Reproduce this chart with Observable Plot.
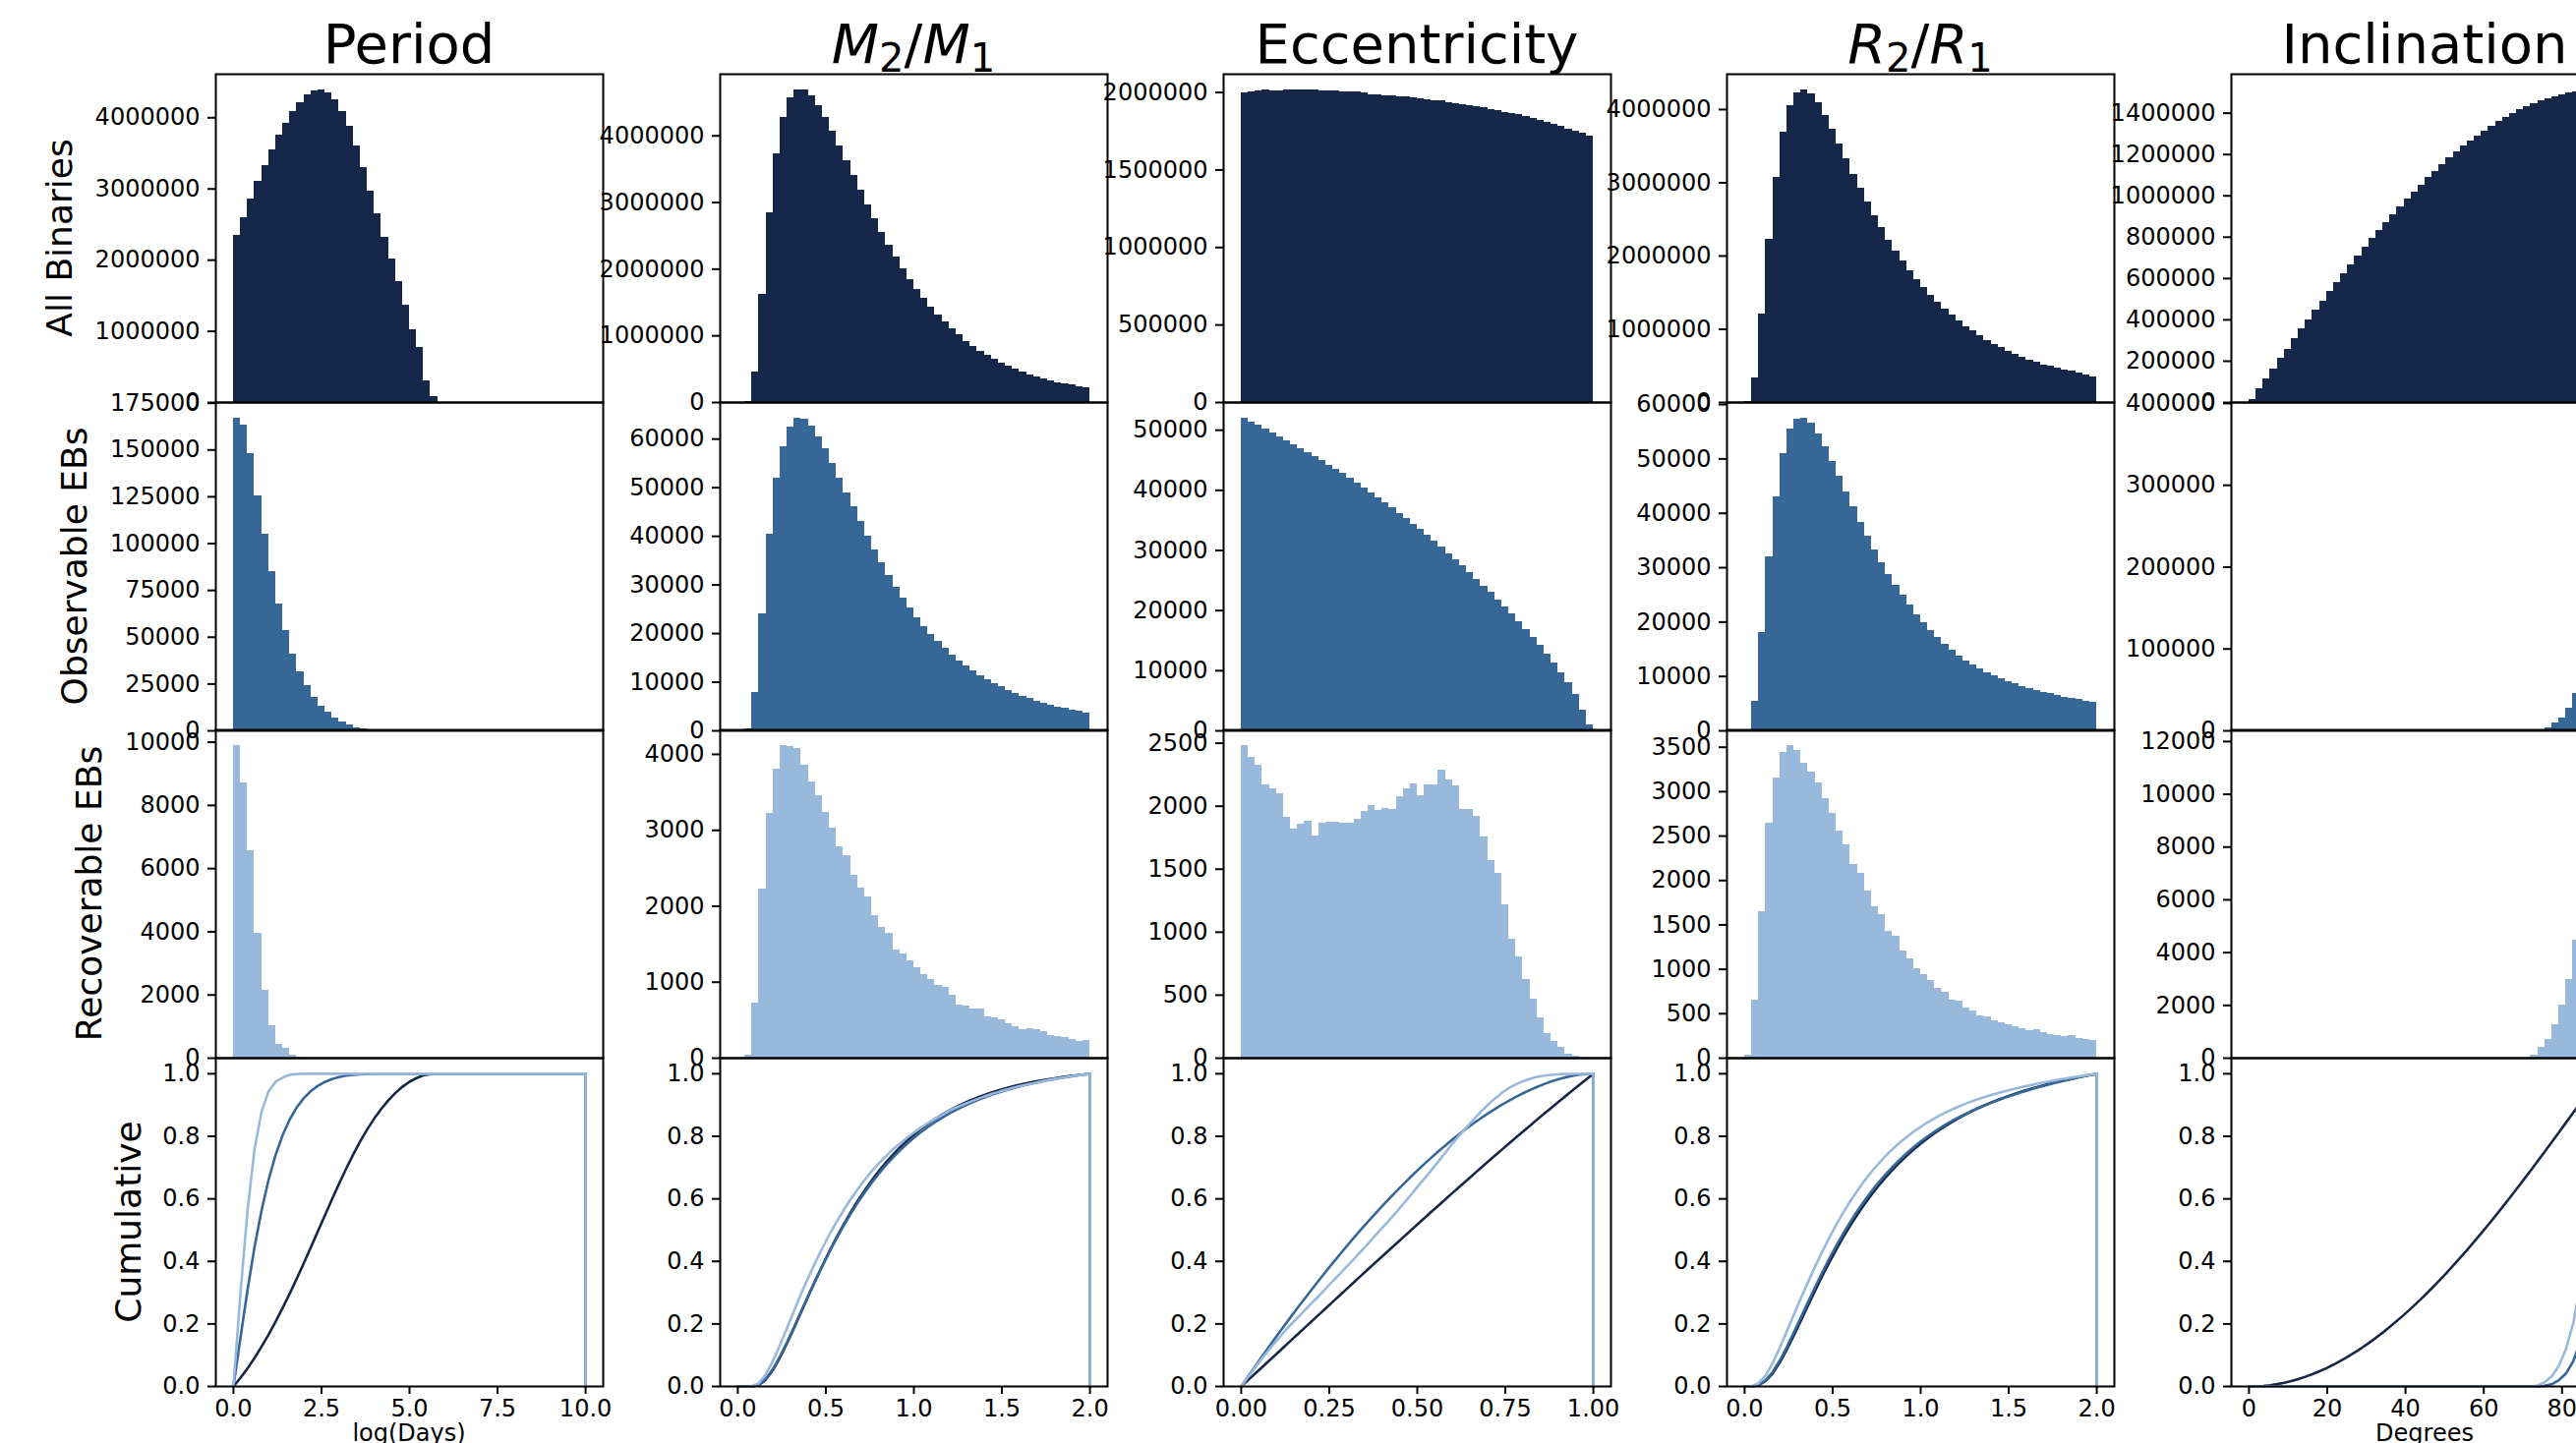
<!DOCTYPE html>
<html><head><meta charset="utf-8">
<script src="https://cdn.jsdelivr.net/npm/d3@7"></script>
<script src="https://cdn.jsdelivr.net/npm/@observablehq/plot@0.6"></script>
<style>
html,body{margin:0;padding:0;background:#fff;}
#page{position:relative;width:2620px;height:1468px;overflow:hidden;background:#fff;font-family:"DejaVu Sans",sans-serif;}
.panel{position:absolute;}
.panel svg{overflow:visible;}
</style></head><body><div id="page"></div>
<script>
// ---------------- DATA (histogram counts, 50 bins per column) ----------------
const colTitles = ["Period", "M2/M1", "Eccentricity", "R2/R1", "Inclination"];
const rowLabels = ["All Binaries", "Observable EBs", "Recoverable EBs", "Cumulative"];
const xLabels = ["log(Days)", "", "", "", "Degrees"];
const binRanges = [[0, 10], [0, 2], [0, 1], [0, 2], [0, 90]];

const periodAll = [2344000,2593000,2856000,3110000,3322000,3543000,3755000,3917000,4083000,4208000,4318000,4383000,4392000,4351000,4254000,4088000,3880000,3599000,3299000,2967000,2648000,2316000,2012000,1693000,1361000,1015000,770000,309000,83000,0,0,0,0,0,0,0,0,0,0,0,0,0,0,0,0,0,0,0,0,0];
const periodObs = [167000,163400,148200,125600,105100,85200,67900,53400,41100,31700,24000,18000,13300,9800,6800,4900,3300,1700,800,400,200,100,0,0,0,0,0,0,0,0,0,0,0,0,0,0,0,0,0,0,0,0,0,0,0,0,0,0,0,0];
const periodRec = [9896,8721,6570,3950,2152,1019,426,301,83,20,0,0,0,0,0,0,0,0,0,0,0,0,0,0,0,0,0,0,0,0,0,0,0,0,0,0,0,0,0,0,0,0,0,0,0,0,0,0,0,0];

const massAll = [0,15000,463000,1616000,2842000,3729000,4276000,4571000,4690000,4690000,4601000,4453000,4276000,4069000,3847000,3626000,3404000,3182000,2961000,2754000,2547000,2355000,2177000,2000000,1837000,1690000,1557000,1424000,1305000,1202000,1099000,1010000,921000,847000,773000,714000,655000,596000,552000,507000,463000,419000,389000,360000,330000,300000,286000,266000,241000,227000];
const massObs = [0,350,7800,24000,40500,52000,58500,62500,64300,64000,62600,60500,58000,55000,52000,49000,46000,43000,40000,37200,34500,32000,29500,27300,25200,23300,21500,19800,18300,16900,15600,14400,13300,12300,11400,10500,9700,9000,8300,7700,7100,6600,6100,5700,5300,4900,4600,4300,4000,3700];
const massRec = [0,43,722,2227,3226,3810,4117,4108,4082,3862,3641,3459,3239,3031,2785,2668,2409,2240,2123,1877,1721,1643,1423,1371,1280,1189,1098,1034,956,930,826,696,683,644,644,541,528,502,450,411,372,385,372,346,294,281,268,242,216,229];

const eccAll = [2000000,2004000,2008000,2015000,2013000,2013000,2015000,2017000,2017000,2017000,2015000,2013000,2011000,2011000,2006000,2004000,2002000,2000000,1987000,1983000,1981000,1979000,1975000,1970000,1964000,1960000,1953000,1949000,1945000,1937000,1930000,1924000,1915000,1909000,1901000,1892000,1884000,1873000,1865000,1856000,1843000,1831000,1820000,1810000,1795000,1782000,1763000,1750000,1738000,1721000];
const eccObs = [52000,51300,50800,50200,49600,48900,48200,47600,46900,46200,45600,44900,44200,43500,42800,42000,41200,40400,39600,38800,38000,37100,36200,35300,34400,33500,32500,31500,30500,29500,28500,27400,26300,25200,24100,23000,21800,20600,19400,18200,16900,15600,14200,12800,11300,9700,8000,6000,3500,1000];
const eccRec = [2482,2388,2325,2172,2140,2099,1913,1820,1859,1880,1765,1867,1874,1874,1867,1867,1898,1960,2005,1968,1984,1976,2078,2140,2179,2086,2172,2172,2289,2211,2164,1976,1976,1921,1757,1569,1468,1217,944,803,623,467,318,193,130,83,29,13,10,0];

const radAll = [13000,336000,1202000,2224000,3072000,3691000,4054000,4224000,4269000,4215000,4094000,3919000,3731000,3529000,3327000,3112000,2924000,2735000,2547000,2386000,2211000,2063000,1928000,1794000,1673000,1565000,1457000,1363000,1269000,1188000,1108000,1040000,973000,906000,852000,798000,758000,704000,664000,623000,583000,556000,516000,502000,475000,448000,435000,408000,381000,354000];
const radObs = [200,5500,18000,32000,43000,51000,55500,57300,57500,56500,54600,52200,49600,46800,44000,41200,38400,35800,33300,31000,28800,26800,24900,23100,21400,19800,18400,17100,15900,14800,13800,12900,12100,11400,10700,10100,9600,9100,8600,8200,7800,7400,7100,6800,6500,6200,5900,5700,5500,5300];
const radRec = [30,650,1650,2650,3150,3440,3520,3460,3320,3220,3100,2920,2760,2560,2400,2180,2080,1880,1700,1620,1430,1370,1210,1120,1010,940,870,790,740,650,640,560,530,480,460,420,400,380,350,330,310,320,290,270,260,240,250,220,210,200];

const incAll = [16000,67000,116000,164000,212000,259000,307000,355000,398000,446000,488000,536000,579000,622000,665000,708000,751000,794000,832000,870000,907000,945000,983000,1018000,1052000,1088000,1118000,1150000,1184000,1212000,1243000,1267000,1290000,1314000,1338000,1362000,1381000,1400000,1419000,1434000,1448000,1462000,1472000,1481000,1491000,1497000,1502000,1507000,1511000,1513000];
const incObs = [0,0,0,0,0,0,0,0,0,0,0,0,0,0,0,0,0,0,0,0,0,0,0,0,0,0,0,0,0,0,0,0,0,0,0,0,0,0,0,0,0,1500,4000,9400,15600,27600,45800,85000,165000,382000];
const incRec = [0,0,0,0,0,0,0,0,0,0,0,0,0,0,0,0,0,0,0,0,0,0,0,0,0,0,0,0,0,0,0,0,0,0,0,0,0,0,0,0,113,405,713,1248,2027,2983,4460,5600,8200,11850];

// tick values
const yTicksAll = [[0,1000000,2000000,3000000,4000000],[0,1000000,2000000,3000000,4000000],[0,500000,1000000,1500000,2000000],[0,1000000,2000000,3000000,4000000],[0,200000,400000,600000,800000,1000000,1200000,1400000]];
const yTicksObs = [[0,25000,50000,75000,100000,125000,150000,175000],[0,10000,20000,30000,40000,50000,60000],[0,10000,20000,30000,40000,50000],[0,10000,20000,30000,40000,50000,60000],[0,100000,200000,300000,400000]];
const yTicksRec = [[0,2000,4000,6000,8000,10000],[0,1000,2000,3000,4000],[0,500,1000,1500,2000,2500],[0,500,1000,1500,2000,2500,3000,3500],[0,2000,4000,6000,8000,10000,12000]];
const yTicksCum = [0,0.2,0.4,0.6,0.8,1.0];
const xTicks = [[0,2.5,5,7.5,10],[0,0.5,1,1.5,2],[0,0.25,0.5,0.75,1],[0,0.5,1,1.5,2],[0,20,40,60,80]];
const xTickFormats = [".1f", ".1f", ".2f", ".1f", "d"];

// ---------------- LAYOUT ----------------
const series = [[periodAll,periodObs,periodRec],[massAll,massObs,massRec],[eccAll,eccObs,eccRec],[radAll,radObs,radRec],[incAll,incObs,incRec]];
const yTicksRows = [yTicksAll, yTicksObs, yTicksRec];
const colors = ["#16284a", "#366797", "#99b9dc"];
const colLeft = [219, 732, 1244, 1756, 2269];
const rowTop = [75, 409, 742, 1076];
const PW = 394, PH = 334;
const ML = 150, MR = 20, MT = 20, MB = 70;
const page = document.getElementById("page");
const FONT = "DejaVu Sans";

function place(svg, left, top) {
  const d = document.createElement("div");
  d.className = "panel";
  d.style.left = (left - ML) + "px";
  d.style.top = (top - MT) + "px";
  d.style.width = (PW + ML + MR) + "px";
  d.style.height = (PH + MT + MB) + "px";
  d.appendChild(svg);
  page.appendChild(d);
}
const baseStyle = {background: "transparent", overflow: "visible", fontFamily: FONT, fontSize: "24px", color: "#000", maxWidth: "none"};

series.forEach((cols, c) => {
  const [lo, hi] = binRanges[c];
  const n = cols[0].length;
  const w = (hi - lo) / n;
  const pad = 0.05 * (hi - lo);
  const xDomain = [lo - pad, hi + pad];
  // histogram rows
  cols.forEach((counts, r) => {
    const bins = counts.map((v, k) => ({x1: lo + k * w, x2: lo + (k + 1) * w, y: v}));
    const ymax = d3.max(counts) * 1.05;
    const svg = Plot.plot({
      width: PW + ML + MR, height: PH + MT + MB,
      marginLeft: ML, marginRight: MR, marginTop: MT, marginBottom: MB,
      style: baseStyle,
      x: {domain: xDomain, axis: null},
      y: {domain: [0, ymax], axis: null},
      marks: [
        Plot.rectY(bins, {x1: "x1", x2: "x2", y: "y", fill: colors[r], shapeRendering: "crispEdges"}),
        Plot.frame({stroke: "#000", strokeWidth: 2}),
        Plot.axisY({ticks: yTicksRows[r][c], tickFormat: d3.format("d"), tickSize: 8, tickPadding: 8, fontSize: 24, strokeWidth: 2, label: null})
      ]
    });
    place(svg, colLeft[c], rowTop[r]);
  });
  // cumulative row
  const lineMarks = cols.map((counts, s) => {
    const total = d3.sum(counts);
    const cum = d3.cumsum(counts);
    const pts = [{x: lo, y: 0}];
    counts.forEach((v, k) => pts.push({x: lo + (k + 1) * w, y: cum[k] / total}));
    pts.push({x: hi, y: 0});
    return Plot.line(pts, {x: "x", y: "y", stroke: colors[s], strokeWidth: 2.6, strokeLinejoin: "round"});
  });
  const svg = Plot.plot({
    width: PW + ML + MR, height: PH + MT + MB,
    marginLeft: ML, marginRight: MR, marginTop: MT, marginBottom: MB,
    style: baseStyle,
    x: {domain: xDomain, axis: null},
    y: {domain: [0, 1.05], axis: null},
    marks: [
      ...lineMarks,
      Plot.frame({stroke: "#000", strokeWidth: 2}),
      Plot.axisY({ticks: yTicksCum, tickFormat: d3.format(".1f"), tickSize: 8, tickPadding: 8, fontSize: 24, strokeWidth: 2, label: null}),
      Plot.axisX({ticks: xTicks[c], tickFormat: d3.format(xTickFormats[c]), tickSize: 8, tickPadding: 5, fontSize: 24, strokeWidth: 2, label: null})
    ]
  });
  place(svg, colLeft[c], rowTop[3]);
});

// ---------------- TEXT OVERLAY ----------------
const ov = d3.select(page).append("svg")
  .attr("width", 2620).attr("height", 1468)
  .style("position", "absolute").style("left", "0px").style("top", "0px")
  .style("font-family", FONT).style("pointer-events", "none");

colTitles.forEach((t, c) => {
  const txt = ov.append("text").attr("x", colLeft[c] + PW / 2).attr("y", 64)
    .attr("text-anchor", "middle").attr("font-size", 56).attr("fill", "#000");
  const m = t.match(/^([A-Z])(\d)\/([A-Z])(\d)$/);
  if (m) {
    txt.append("tspan").attr("font-style", "italic").text(m[1]);
    txt.append("tspan").attr("font-size", 40).attr("dy", 9).text(m[2]);
    txt.append("tspan").attr("dy", -9).text("/");
    txt.append("tspan").attr("font-style", "italic").text(m[3]);
    txt.append("tspan").attr("font-size", 40).attr("dy", 9).text(m[4]);
  } else {
    txt.text(t);
  }
});

const rowLabelX = [60, 75, 90, 130];
rowLabels.forEach((t, r) => {
  const cy = rowTop[r] + PH / 2;
  ov.append("text").attr("transform", `translate(${rowLabelX[r]},${cy}) rotate(-90)`)
    .attr("text-anchor", "middle").attr("dy", "0.35em").attr("font-size", 36).attr("fill", "#000").text(t);
});

xLabels.forEach((t, c) => {
  if (!t) return;
  ov.append("text").attr("x", colLeft[c] + PW / 2).attr("y", 1466)
    .attr("text-anchor", "middle").attr("font-size", 24).attr("fill", "#000").text(t);
});
</script>
</body></html>
